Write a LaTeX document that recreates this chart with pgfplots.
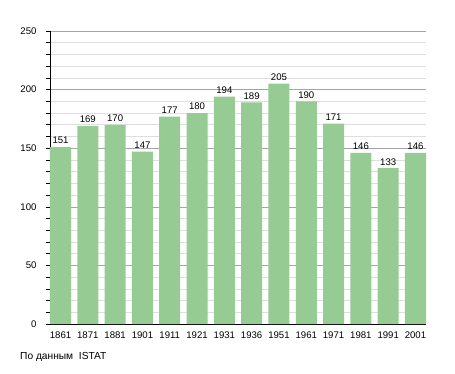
\documentclass[border=0pt]{standalone}
\usepackage{pgfplots}
\pgfplotsset{compat=1.18}
\usepackage{fontspec}
\setmainfont{Liberation Sans}
\definecolor{barg}{RGB}{150,203,148}
\definecolor{majg}{RGB}{165,165,165}
\definecolor{ming}{RGB}{222,222,222}
\begin{document}
\begin{tikzpicture}[x=1pt,y=1pt]
\useasboundingbox (-50,-49) rectangle (405,324);
\begin{axis}[
  at={(0,0)}, anchor=south west,
  scale only axis, width=376pt, height=293pt,
  xmin=-0.385, xmax=13.385, ymin=0, ymax=250,
  axis x line*=bottom, axis y line*=left,
  axis line style={black, line width=0.8pt, -},
  xtick={0,...,13},
  xticklabels={1861,1871,1881,1901,1911,1921,1931,1936,1951,1961,1971,1981,1991,2001},
  x tick style={draw=none},
  ytick={0,50,...,250},
  minor ytick={10,20,...,240},
  ymajorgrids, yminorgrids,
  major grid style={majg, line width=0.6pt},
  minor grid style={ming, line width=0.6pt},
  y tick style={black, line width=0.6pt},
  tick align=outside,
  major tick length=4pt, minor tick length=4pt,
  tick label style={font=\fontsize{9.6}{11}\selectfont},
  /pgf/number format/assume math mode=true,
  yticklabel style={xshift=-6pt},
  ybar, bar width=0.77, bar shift=0,
  nodes near coords,
  nodes near coords style={font=\fontsize{9.6}{11}\selectfont, yshift=-0.5pt},
  clip=false,
]
\addplot[fill=barg, draw=none] coordinates {
(0,151) (1,169) (2,170) (3,147) (4,177) (5,180) (6,194) (7,189) (8,205) (9,190) (10,171) (11,146) (12,133) (13,146)};
\end{axis}
\node[anchor=west, inner sep=0pt, font=\fontsize{10.2}{12}\selectfont] at (-30,-33) {По данным\ \ ISTAT};
\end{tikzpicture}
\end{document}
